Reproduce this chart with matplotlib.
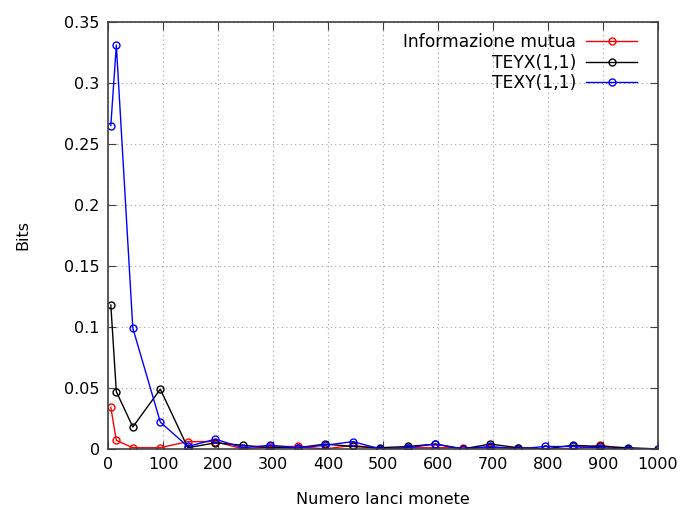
import numpy as np
import matplotlib.pyplot as plt

# numero di lanci
lanci = [5, 15, 45, 95, 145, 195, 245, 295, 345, 395, 445, 495,
         545, 595, 645, 695, 745, 795, 845, 895, 945, 1000]

info_mutua = [0.034, 0.007, 0.001, 0.001, 0.006, 0.006, 0.000, 0.002,
              0.002, 0.000, 0.003, 0.000, 0.001, 0.001, 0.001, 0.001,
              0.001, 0.000, 0.000, 0.003, 0.000, 0.000]
teyx = [0.118, 0.047, 0.018, 0.049, 0.001, 0.005, 0.003, 0.001,
        0.001, 0.004, 0.002, 0.001, 0.002, 0.004, 0.000, 0.004,
        0.001, 0.000, 0.003, 0.002, 0.001, 0.000]
texy = [0.265, 0.331, 0.099, 0.022, 0.002, 0.008, 0.001, 0.003,
        0.001, 0.003, 0.006, 0.000, 0.001, 0.004, 0.000, 0.002,
        0.000, 0.002, 0.002, 0.001, 0.000, 0.000]

fig = plt.figure(figsize=(6.84, 5.09), dpi=100)
ax = fig.add_axes([0.158, 0.118, 0.804, 0.839])

style = dict(marker='o', mfc='none', ms=5, lw=1, mew=1)
ax.plot(lanci, info_mutua, color='#ff0000', label='Informazione mutua', **style)
ax.plot(lanci, teyx, color='#000000', label='TEYX(1,1)', **style)
ax.plot(lanci, texy, color='#0000ff', label='TEXY(1,1)', **style)

ax.set_xlim(0, 1000)
ax.set_ylim(0, 0.35)
ax.set_xticks(np.arange(0, 1001, 100))
ax.set_yticks(np.arange(0, 0.351, 0.05))
ax.set_yticklabels(['0', '0.05', '0.1', '0.15', '0.2', '0.25', '0.3', '0.35'])
ax.grid(True, color='#a0a0a0', ls=(0, (1, 3)), lw=0.8)
ax.tick_params(direction='in', top=True, right=True, length=6, labelsize=11.5,
               color='#404040', pad=6)
for s in ax.spines.values():
    s.set_color('#404040')
    s.set_linewidth(1.2)

ax.set_xlabel('Numero lanci monete', fontsize=11.5, labelpad=14)
ax.set_ylabel('Bits', fontsize=11.5, labelpad=24)

leg = ax.legend(loc='upper right', bbox_to_anchor=(0.975, 0.99), frameon=False,
                fontsize=12.3, markerfirst=False, handlelength=3.0,
                borderaxespad=0.0, labelspacing=0.15, handletextpad=0.6)
for t in leg.get_texts():
    t.set_ha('right')
leg._legend_box.align = 'right'

fig.savefig('out.png', dpi=100)
